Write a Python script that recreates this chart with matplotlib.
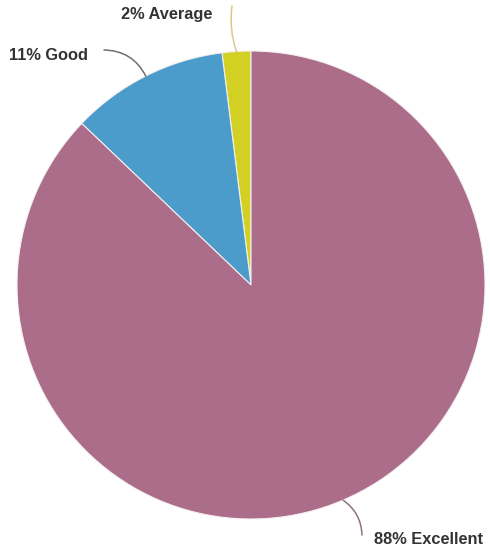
import numpy as np
import matplotlib.pyplot as plt

# ratings share, drawn counter-clockwise from 12 o'clock
labels = ['Average', 'Good', 'Excellent']
values = [2, 11, 88]
colors = ['#d2d022', '#4b9bcb', '#ab6d8a']
line_colors = ['#d4cd80', '#6f6f6f', '#8c7282']

W, H = 490, 552
cx, cy, R = 251, 285, 234


def px(x, y):
    # pixel position -> data coords (pie radius = 1)
    return (x - cx) / R, (cy - y) / R


fig = plt.figure(figsize=(W / 100, H / 100), dpi=100)
ax = fig.add_axes([0, 0, 1, 1])

wedges, _ = ax.pie(values, colors=colors, startangle=90, counterclock=True,
                   radius=1, wedgeprops=dict(edgecolor='#f4f0f2', linewidth=0.8))

ax.set_xlim(px(0, 0)[0], px(W, 0)[0])
ax.set_ylim(px(0, H)[1], px(0, 0)[1])
ax.set_aspect('auto')
ax.axis('off')

# leader line ends and label anchors (pixels)
ends = [(232, 6), (104, 50), (362, 535)]
texts = [(212, 15, 'right'), (88, 55, 'right'), (374, 540, 'left')]
rads = [0.12, -0.3, 0.25]

for w, v, lab, lc, end, (tx, ty, ha), rad in zip(wedges, values, labels, line_colors, ends, texts, rads):
    ang = np.deg2rad((w.theta1 + w.theta2) / 2)
    edge = (np.cos(ang), np.sin(ang))
    ax.annotate('', xy=edge, xytext=px(*end),
                arrowprops=dict(arrowstyle='-', color=lc, lw=1.1,
                                connectionstyle=f'arc3,rad={rad}',
                                shrinkA=0, shrinkB=0))
    ax.text(*px(tx, ty), f'{v}% {lab}', ha=ha, va='center',
            family='Liberation Sans', fontsize=11.8, fontweight='bold',
            color='#333333')

fig.savefig('out.png', dpi=100)
